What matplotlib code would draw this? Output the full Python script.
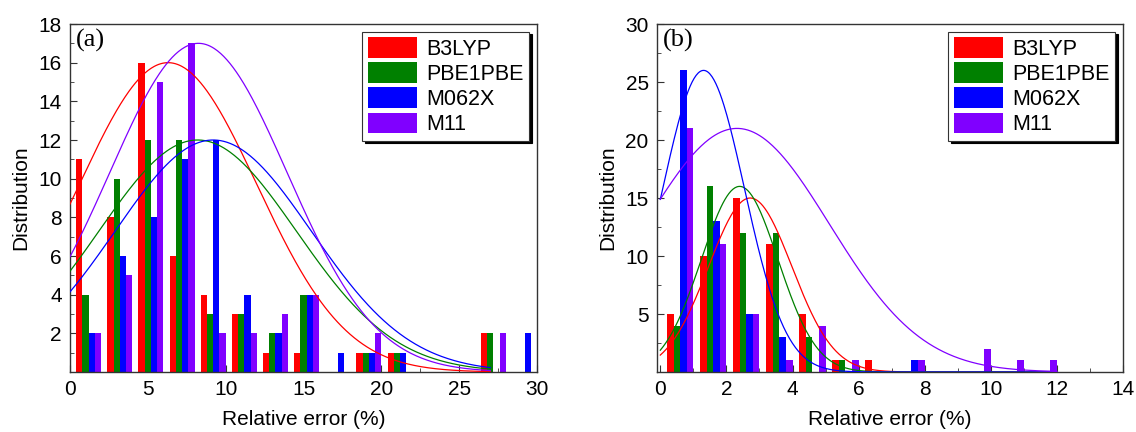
import matplotlib
matplotlib.use("Agg")
import matplotlib.pyplot as plt
import numpy as np
from matplotlib.ticker import MultipleLocator
from matplotlib.patches import Patch

methods = ["B3LYP", "PBE1PBE", "M062X", "M11"]
colors = ["#ff0000", "#008000", "#0000ff", "#8000ff"]

# panel (a): bins of width 2 (0-2, 2-4, ... 28-30)
bins_a = np.arange(0, 30, 2)
counts_a = {
    "B3LYP":   [11, 8, 16, 6, 4, 3, 1, 1, 0, 1, 1, 0, 0, 2, 0],
    "PBE1PBE": [4, 10, 12, 12, 3, 3, 2, 4, 0, 1, 1, 0, 0, 2, 0],
    "M062X":   [2, 6, 8, 11, 12, 4, 2, 4, 1, 1, 1, 0, 0, 0, 2],
    "M11":     [2, 5, 15, 17, 2, 2, 3, 4, 0, 2, 0, 0, 0, 2, 0],
}
# gaussian fit curves (amplitude, centre, width)
amp_a = [16, 12, 12, 17]
mu_a = [6.3, 8.2, 9.2, 8.25]
sig_a = [5.7, 6.35, 6.31, 5.70]

# panel (b): bins of width 1 (0-1, ... 13-14)
bins_b = np.arange(0, 14, 1)
counts_b = {
    "B3LYP":   [5, 10, 15, 11, 5, 1, 1, 0, 0, 0, 0, 0, 0, 0],
    "PBE1PBE": [4, 16, 12, 12, 3, 1, 0, 0, 0, 0, 0, 0, 0, 0],
    "M062X":   [26, 13, 5, 3, 0, 0, 0, 1, 0, 0, 0, 0, 0, 0],
    "M11":     [21, 11, 5, 1, 4, 1, 0, 1, 0, 2, 1, 1, 0, 0],
}
amp_b = [15, 16, 26, 21]
mu_b = [2.72, 2.4, 1.31, 2.32]
sig_b = [1.26, 1.16, 1.24, 2.80]

plt.rcParams['font.family'] = ['Liberation Sans', 'DejaVu Sans']

fig = plt.figure(figsize=(11.36, 4.32), dpi=100)
ax1 = fig.add_axes([70/1136, 60/432, 467/1136, 348/432])
ax2 = fig.add_axes([657/1136, 60/432, 466/1136, 348/432])


def draw_panel(ax, bins, counts, amp, mu, sig, width, xcurve, tag):
    for i, m in enumerate(methods):
        x = bins + width * (i + 1) + width / 2
        ax.bar(x, counts[m], width=width, color=colors[i], linewidth=0, zorder=2)
    xs = np.linspace(0, xcurve, 400)
    for i in range(4):
        ys = amp[i] * np.exp(-(xs - mu[i])**2 / (2 * sig[i]**2))
        ax.plot(xs, ys, color=colors[i], lw=0.9, zorder=3)
    ax.text(0.012, 0.985, tag, transform=ax.transAxes, ha='left', va='top',
            fontsize=19, family='Liberation Serif')
    handles = [Patch(facecolor=c, edgecolor='none') for c in colors]
    leg = ax.legend(handles, methods, loc='upper right', fontsize=15.5,
                    fancybox=False, framealpha=1, edgecolor='#333333',
                    shadow={'color': 'black', 'alpha': 1},
                    handlelength=2.3, handleheight=1.1, labelspacing=0.12,
                    handletextpad=0.45, borderpad=0.25, borderaxespad=0.35)
    leg.get_frame().set_linewidth(0.8)
    for s in ax.spines.values():
        s.set_color('#333333')
        s.set_linewidth(1.0)
    ax.tick_params(which='both', direction='in', top=False, right=False,
                   labelsize=15, color='#333333')
    ax.tick_params(which='major', length=5, pad=6)
    ax.tick_params(which='minor', length=3)
    ax.set_xlabel('Relative error (%)', fontsize=15, labelpad=8)
    ax.set_ylabel('Distribution', fontsize=15, labelpad=6)


draw_panel(ax1, bins_a, counts_a, amp_a, mu_a, sig_a, 0.4, 27, '(a)')
ax1.set_xlim(0, 30)
ax1.set_ylim(0, 18)
ax1.xaxis.set_major_locator(MultipleLocator(5))
ax1.xaxis.set_minor_locator(MultipleLocator(2.5))
ax1.set_yticks(np.arange(2, 19, 2))
ax1.yaxis.set_minor_locator(MultipleLocator(1))

draw_panel(ax2, bins_b, counts_b, amp_b, mu_b, sig_b, 0.2, 12, '(b)')
ax2.set_xlim(-0.1, 14)
ax2.set_ylim(0, 30)
ax2.xaxis.set_major_locator(MultipleLocator(2))
ax2.xaxis.set_minor_locator(MultipleLocator(1))
ax2.set_yticks(np.arange(5, 31, 5))
ax2.yaxis.set_minor_locator(MultipleLocator(2.5))

fig.savefig('out.png', dpi=100)
